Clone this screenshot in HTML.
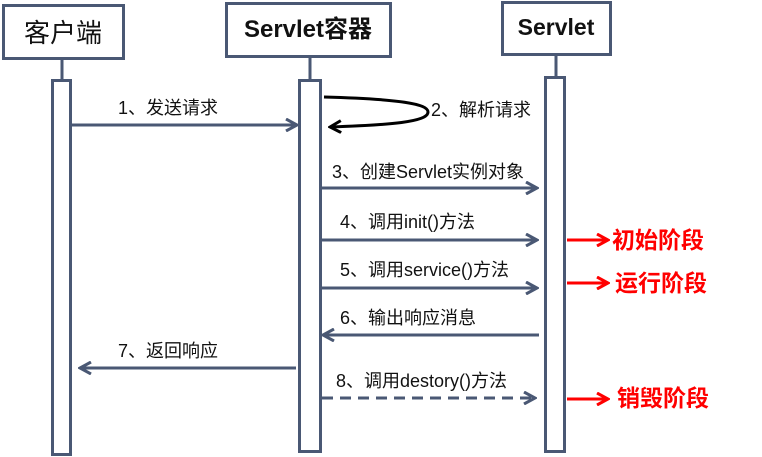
<!DOCTYPE html>
<html><head><meta charset="utf-8"><style>
html,body{margin:0;padding:0;background:#fff;width:762px;height:457px;overflow:hidden}
svg{display:block}
text{font-family:"Liberation Sans","Noto Sans CJK SC",sans-serif}
</style></head><body>
<svg width="762" height="457" viewBox="0 0 762 457" xmlns="http://www.w3.org/2000/svg">
<defs>
<marker id="ah" markerWidth="14" markerHeight="14" refX="12" refY="7" orient="auto" markerUnits="userSpaceOnUse">
<path d="M1,1 L12,7 L1,13" fill="none" stroke="#4a5874" stroke-width="3"/>
</marker>
<marker id="ahb" markerWidth="14" markerHeight="14" refX="12" refY="7" orient="auto" markerUnits="userSpaceOnUse">
<path d="M1,1 L12,7 L1,13" fill="none" stroke="#000" stroke-width="3"/>
</marker>
<marker id="ahr" markerWidth="14" markerHeight="14" refX="12" refY="7" orient="auto" markerUnits="userSpaceOnUse">
<path d="M1,1 L12,7 L1,13" fill="none" stroke="#f00" stroke-width="3"/>
</marker>
</defs>
<g stroke="#4a5874" stroke-width="3" fill="#fff">
<line x1="62" y1="58" x2="62" y2="80"/>
<line x1="310" y1="57" x2="310" y2="80"/>
<line x1="556" y1="55" x2="556" y2="77"/>
<rect x="3.5" y="5.5" width="120" height="53"/>
<rect x="226.5" y="3.5" width="164" height="53"/>
<rect x="502.5" y="2.5" width="108" height="52"/>
<rect x="52.5" y="80.5" width="18" height="374"/>
<rect x="299.5" y="80.5" width="21" height="371"/>
<rect x="545.5" y="77.5" width="19" height="374"/>
</g>
<text x="63" y="42" font-size="26" text-anchor="middle" fill="#111">客户端</text>
<text x="308" y="37" font-size="24" font-weight="bold" text-anchor="middle" fill="#111">Servlet容器</text>
<text x="556" y="35" font-size="23" font-weight="bold" text-anchor="middle" fill="#111">Servlet</text>
<g stroke="#4a5874" stroke-width="3" fill="none">
<line x1="72" y1="125" x2="297" y2="125" marker-end="url(#ah)"/>
<line x1="322" y1="188" x2="537" y2="188" marker-end="url(#ah)"/>
<line x1="322" y1="240" x2="537" y2="240" marker-end="url(#ah)"/>
<line x1="322" y1="288" x2="537" y2="288" marker-end="url(#ah)"/>
<line x1="539" y1="335" x2="323" y2="335" marker-end="url(#ah)"/>
<line x1="296" y1="368" x2="80" y2="368" marker-end="url(#ah)"/>
<line x1="322" y1="398" x2="535" y2="398" stroke-dasharray="11,7" marker-end="url(#ah)"/>
</g>
<path d="M324,97 C400,99 428,104 428,112 C428,122 390,125 330,127" fill="none" stroke="#000" stroke-width="3" marker-end="url(#ahb)"/>
<g stroke="#f00" stroke-width="3" fill="none">
<line x1="567" y1="240" x2="608" y2="240" marker-end="url(#ahr)"/>
<line x1="567" y1="283" x2="608" y2="283" marker-end="url(#ahr)"/>
<line x1="567" y1="399" x2="608" y2="399" marker-end="url(#ahr)"/>
</g>
<g font-size="18" fill="#111">
<text x="118" y="114">1、发送请求</text>
<text x="431" y="116">2、解析请求</text>
<text x="332" y="178">3、创建Servlet实例对象</text>
<text x="340" y="228">4、调用init()方法</text>
<text x="340" y="276">5、调用service()方法</text>
<text x="340" y="324">6、输出响应消息</text>
<text x="118" y="357">7、返回响应</text>
<text x="336" y="387">8、调用destory()方法</text>
</g>
<g font-size="23" font-weight="bold" fill="#f00">
<text x="612" y="248">初始阶段</text>
<text x="615" y="291">运行阶段</text>
<text x="617" y="406">销毁阶段</text>
</g>
</svg>
</body></html>
